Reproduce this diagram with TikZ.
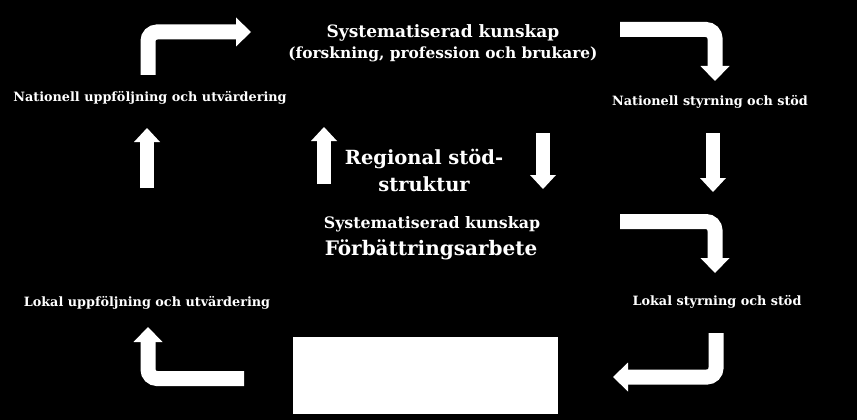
\documentclass[tikz,border=0pt]{standalone}
\usepackage{fontspec}
\setmainfont{DejaVu Serif}
\usepackage{tikz}
\usetikzlibrary{arrows.meta}

\tikzset{
  label/.style={text=white, font=\bfseries\fontsize{12.8}{15}\selectfont, anchor=base, inner sep=0pt},
  toptext/.style={label, font=\bfseries\fontsize{15.8}{19}\selectfont},
  bigtext/.style={label, font=\bfseries\fontsize{19.5}{27}\selectfont},
  blockarrow/.style={draw=white, line width=15pt, rounded corners=9pt,
    -{Triangle[length=15pt, width=29pt, line width=0pt]}},
}

\begin{document}
\begin{tikzpicture}[x=1pt, y=-1pt]
  \fill[black] (0,0) rectangle (857,420);
  \path[use as bounding box] (0,0) rectangle (857,420);

  % Texts
  \node[toptext, font=\bfseries\fontsize{17}{20}\selectfont] (syskunskap) at (443,38) {Systematiserad kunskap};
  \node[toptext, font=\bfseries\fontsize{15.4}{18}\selectfont] (forskning) at (443,59) {(forskning, profession och brukare)};
  \node[label] (natupp) at (150,101) {Nationell uppföljning och utvärdering};
  \node[label] (natstyr) at (710,105) {Nationell styrning och stöd};
  \node[bigtext, align=center] (regional) at (424,191) {Regional stöd-\\struktur};
  \node[toptext] (syskunskap2) at (432,228) {Systematiserad kunskap};
  \node[bigtext, font=\bfseries\fontsize{20}{24}\selectfont] (forbattring) at (431,255) {Förbättringsarbete};
  \node[label] (lokupp) at (147,306) {Lokal uppföljning och utvärdering};
  \node[label] (lokstyr) at (717,305) {Lokal styrning och stöd};

  % White box
  \fill[white] (293,337) rectangle (558,414);

  % Bent arrows
  \draw[blockarrow] (148,75) |- (251,32);
  \draw[blockarrow] (620,29.5) -| (715,81);
  \draw[blockarrow] (620,221.5) -| (715,273);
  \draw[blockarrow] (716,333) |- (613,377);
  \draw[blockarrow] (244,378.5) -| (148,327);

  % Straight arrows
  \foreach \x/\ya/\yb in {147/188/128, 324/184/127, 543/133/189, 713/133/192} {
    \draw[blockarrow, line width=14pt, -{Triangle[length=14pt, width=26pt, line width=0pt]}] (\x,\ya) -- (\x,\yb);
  }

\end{tikzpicture}
\end{document}
